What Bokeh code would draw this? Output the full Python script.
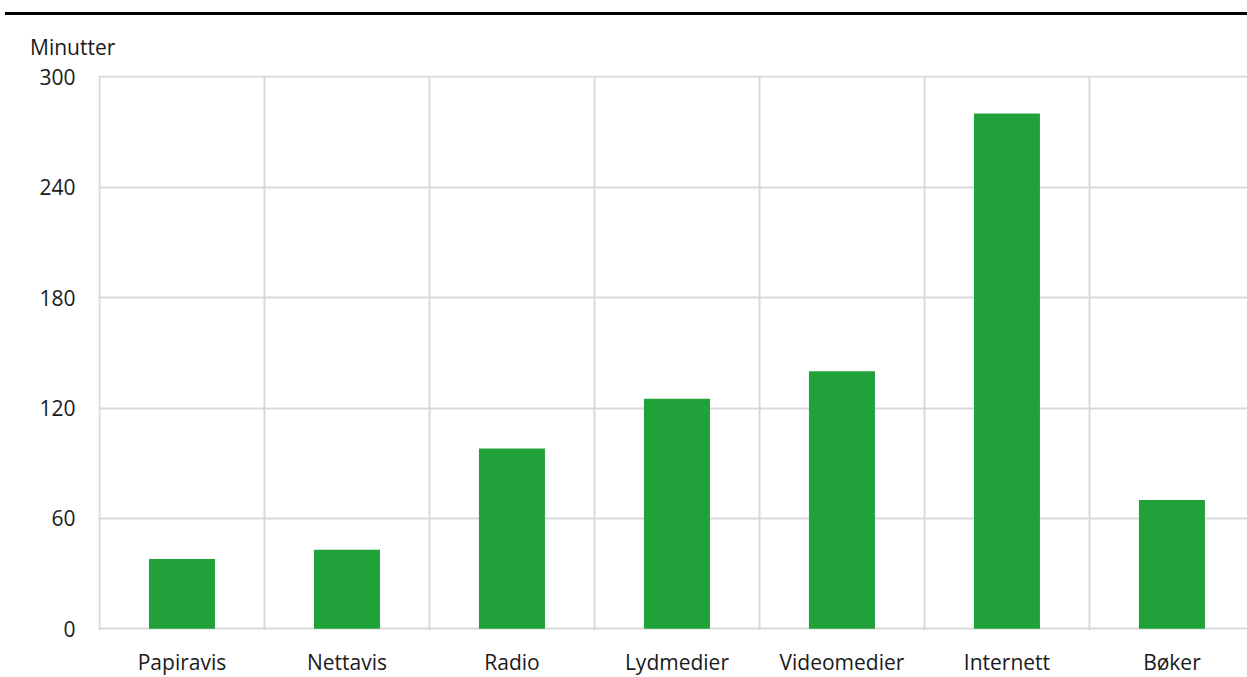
from bokeh.plotting import figure
from bokeh.models import Range1d, FixedTicker, Div, ColumnDataSource
from bokeh.layouts import column
from bokeh.embed import file_html
from bokeh.resources import INLINE

categories = ["Papiravis", "Nettavis", "Radio", "Lydmedier", "Videomedier", "Internett", "Bøker"]
minutes = [38, 43, 98, 125, 140, 280, 70]
y_ticks = [0, 60, 120, 180, 240, 300]
y_label = "Minutter"

FONT = "Open Sans"
FS = "21px"
GRID = "#d9d9d9"
GREEN = "#21a13a"
TXT = "#1a1a1a"

xs = [i + 0.5 for i in range(len(categories))]
src = ColumnDataSource(dict(x=xs, top=minutes, cat=categories))

p = figure(
    width=1247, height=615,
    frame_width=1149, frame_height=555,
    x_range=Range1d(-0.006, 6.958), y_range=Range1d(-0.92, 300.71),
    output_backend="svg", toolbar_location=None,
    min_border_left=98, min_border_right=0, min_border_top=14, min_border_bottom=46,
)
p.outline_line_color = None
p.background_fill_color = "white"

p.vbar(x="x", top="top", bottom=0, width=0.4, source=src, fill_color=GREEN, line_color=None)

# axes
p.xaxis.ticker = FixedTicker(ticks=xs)
p.xaxis.major_label_overrides = {x: c for x, c in zip(xs, categories)}
p.yaxis.ticker = FixedTicker(ticks=y_ticks)
for ax in (p.xaxis[0], p.yaxis[0]):
    ax.axis_line_color = None
    ax.major_tick_line_color = None
    ax.minor_tick_line_color = None
    ax.major_tick_out = 0
    ax.major_tick_in = 0
    ax.minor_tick_out = 0
    ax.minor_tick_in = 0
    ax.major_label_text_font = FONT
    ax.major_label_text_font_size = FS
    ax.major_label_text_color = TXT
p.xaxis.major_label_standoff = 17
p.yaxis.major_label_standoff = 23

# grids
p.xgrid.ticker = FixedTicker(ticks=list(range(0, 7)))
p.ygrid.ticker = FixedTicker(ticks=y_ticks)
for g in (p.xgrid[0], p.ygrid[0]):
    g.grid_line_color = GRID
    g.grid_line_width = 2

top_rule = Div(text="", width=1247, height=10,
               styles={"border-bottom": "3px solid black"})
unit_div = Div(
    text=(f'<div style="margin:0;padding-top:13px;padding-left:30px;font-family:\'{FONT}\';'
          f'font-size:{FS};line-height:28px;color:{TXT};white-space:nowrap">{y_label}</div>'),
    width=1247, height=41,
    styles={"margin": "0", "padding": "0", "overflow": "hidden"},
)

layout = column(top_rule, unit_div, p, spacing=0)
open("out.html", "w").write(file_html(layout, INLINE))
